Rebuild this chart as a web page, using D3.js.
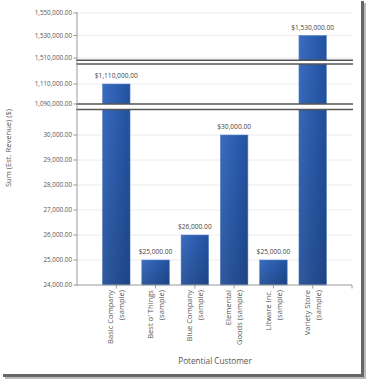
<!DOCTYPE html>
<html><head><meta charset="utf-8">
<script src="https://cdn.jsdelivr.net/npm/d3@7"></script>
<style>
html,body{margin:0;padding:0;background:#fff;}
svg{display:block;}
text{font-family:"Open Sans","DejaVu Sans",sans-serif;}
</style></head>
<body>
<script>
const categories = [
  ["Basic Company","(sample)"],
  ["Best o' Things","(sample)"],
  ["Blue Company","(sample)"],
  ["Elemental","Goods (sample)"],
  ["Litware Inc.","(sample)"],
  ["Variety Store","(sample)"]
];
const values = [1110000, 25000, 26000, 30000, 25000, 1530000];
const valueLabels = ["$1,110,000.00","$25,000.00","$26,000.00","$30,000.00","$25,000.00","$1,530,000.00"];
const ticksTop = [1510000, 1530000, 1550000];
const ticksMid = [1090000, 1110000];
const ticksLow = [24000, 25000, 26000, 27000, 28000, 29000, 30000];
const yTitle = "Sum (Est. Revenue) ($)";
const xTitle = "Potential Customer";

const W = 367, H = 381;
const svg = d3.select("body").append("svg").attr("width", W).attr("height", H);

const defs = svg.append("defs");
const g1 = defs.append("linearGradient").attr("id","barg").attr("x1",0).attr("y1",0).attr("x2",1).attr("y2",0);
g1.append("stop").attr("offset","0%").attr("stop-color","#3a6cbf");
g1.append("stop").attr("offset","50%").attr("stop-color","#2d5fb2");
g1.append("stop").attr("offset","100%").attr("stop-color","#2452a0");
const g2 = defs.append("linearGradient").attr("id","shade").attr("x1",0).attr("y1",0).attr("x2",0).attr("y2",1);
g2.append("stop").attr("offset","0%").attr("stop-color","#000").attr("stop-opacity",0);
g2.append("stop").attr("offset","100%").attr("stop-color","#000").attr("stop-opacity",0.18);

const left = 77, right = 352, bottom = 285;

// segmented y scales
const yTop = d3.scaleLinear().domain([1508000, 1550000]).range([60.25, 13]);
const yMid = d3.scaleLinear().domain([1089000, 1130000]).range([105, 64]);
const yLow = d3.scaleLinear().domain([24000, 31000]).range([bottom, 110]);
function yPos(v){
  if (v >= 1508000) return yTop(v);
  if (v >= 1089000) return yMid(v);
  return yLow(v);
}

const x = d3.scalePoint().domain(d3.range(categories.length + 1).map(String)).range([left, right]).padding(0);
// categories at positions 1..6 of a 0..7 grid
const step = (right - left) / 7;
const xc = i => left + step * (i + 1);
const bw = 27.5;

// gridlines
const allTicks = ticksTop.map(v=>({v,y:yTop(v)})).concat(ticksMid.map(v=>({v,y:yMid(v)})), ticksLow.map(v=>({v,y:yLow(v)})));
svg.append("g").selectAll("line").data(allTicks.filter(d=>d.v!==24000)).join("line")
  .attr("x1", left).attr("x2", right).attr("y1", d=>d.y).attr("y2", d=>d.y)
  .attr("stroke","#ececec").attr("stroke-width",1);

// bars
const bars = svg.append("g");
values.forEach((v,i)=>{
  bars.append("rect").attr("x", xc(i)-bw/2).attr("y", yPos(v)).attr("width", bw).attr("height", bottom - yPos(v))
    .attr("fill","url(#barg)").attr("stroke","#5b86c9").attr("stroke-width",0.6);
  bars.append("rect").attr("x", xc(i)-bw/2).attr("y", yPos(v)).attr("width", bw).attr("height", bottom - yPos(v))
    .attr("fill","url(#shade)");
});

// breaks
const breaks = [[yTop(1508000), yMid(1130000)], [yMid(1089000)-1, yLow(31000)-0.5]];
breaks.forEach(([a,b])=>{
  svg.append("rect").attr("x", left).attr("y", a).attr("width", right-left+1).attr("height", b-a).attr("fill","#fff");
  [a,b].forEach(yy=>svg.append("line").attr("x1",left-1).attr("x2",right+1).attr("y1",yy).attr("y2",yy)
    .attr("stroke","#555").attr("stroke-width",1.4));
});

// data labels
svg.append("g").selectAll("text").data(values).join("text")
  .attr("x",(d,i)=>xc(i)).attr("y",d=>yPos(d)-6)
  .attr("text-anchor","middle").attr("font-size",6.6).attr("fill","#444")
  .text((d,i)=>valueLabels[i]);

// y axis
const ya = svg.append("g");
ya.append("line").attr("x1",left).attr("x2",left).attr("y1",12).attr("y2",bottom+1).attr("stroke","#9a9a9a");
const fmt = d3.format(",.2f");
allTicks.forEach(t=>{
  ya.append("line").attr("x1",left-3.5).attr("x2",left).attr("y1",t.y).attr("y2",t.y).attr("stroke","#9a9a9a");
  ya.append("text").attr("x",left-5).attr("y",t.y).attr("dy","0.35em").attr("text-anchor","end")
    .attr("font-size",6.3).attr("fill","#555").text(fmt(t.v));
});

// x axis
const xa = svg.append("g");
xa.append("line").attr("x1",left).attr("x2",right).attr("y1",bottom).attr("y2",bottom).attr("stroke","#9a9a9a");
const xt = d3.range(7).map(i=>left+step*(i+1));
xt.forEach(px=>xa.append("line").attr("x1",px).attr("x2",px).attr("y1",bottom).attr("y2",bottom+3.5).attr("stroke","#9a9a9a"));
categories.forEach((c,i)=>{
  c.forEach((line,j)=>{
    xa.append("text").attr("transform",`translate(${xc(i) - 5.5 + j*11},${bottom+5}) rotate(-90)`)
      .attr("text-anchor","end").attr("dy","0.35em").attr("font-size",7.6).attr("fill","#555").text(line);
  });
});

// titles
svg.append("text").attr("transform",`translate(8,148) rotate(-90)`).attr("text-anchor","middle").attr("dy","0.35em")
  .attr("font-size",7.6).attr("fill","#555").text(yTitle);
svg.append("text").attr("x",215).attr("y",361).attr("dy","0.35em").attr("text-anchor","middle")
  .attr("font-size",8.2).attr("fill","#555").text(xTitle);

// frame shadow
svg.append("rect").attr("x",361).attr("y",1).attr("width",3).attr("height",376).attr("fill","#666");
svg.append("rect").attr("x",364).attr("y",3).attr("width",2).attr("height",375).attr("fill","#bbb");
svg.append("rect").attr("x",3).attr("y",374).attr("width",361).attr("height",3).attr("fill","#666");
svg.append("rect").attr("x",5).attr("y",377).attr("width",361).attr("height",2).attr("fill","#bbb");
</script>
</body></html>
